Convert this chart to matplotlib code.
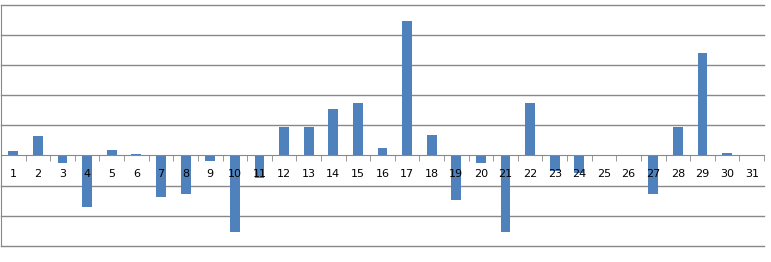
import matplotlib
matplotlib.use("Agg")
import matplotlib.pyplot as plt

days = list(range(1, 32))
values = [0.15, 0.65, -0.24, -1.70, 0.18, 0.05, -1.39, -1.27, -0.20, -2.52,
          -0.75, 0.95, 0.95, 1.55, 1.74, 0.26, 4.45, 0.69, -1.47, -0.24,
          -2.55, 1.74, -0.51, -0.58, 0.0, 0.0, -1.27, 0.95, 3.40, 0.08, 0.0]
tick_labels = [str(d) for d in days]
grid_levels = [-3, -2, -1, 1, 2, 3, 4, 5]

fig = plt.figure(figsize=(7.71, 2.62), dpi=100)
ax = fig.add_axes([1 / 771, (262 - 246) / 262, 763 / 771, (246 - 4.5) / 262])

for g in grid_levels:
    ax.axhline(g, color="#888888", lw=1.0, zorder=0.5, clip_on=False)

ax.bar(days, values, width=0.4, color="#4F81BD", zorder=1.2)

ax.set_xlim(0.5, 31.5)
ax.set_ylim(-3, 5)

for s in ["top", "right"]:
    ax.spines[s].set_visible(False)
ax.spines["left"].set_color("#888888")
ax.spines["bottom"].set_position(("data", 0))
ax.spines["bottom"].set_color("#888888")

ax.set_yticks([])
ax.set_xticks(days)
ax.set_xticklabels(tick_labels, fontsize=8, family="DejaVu Sans", color="#000000")
ax.tick_params(axis="x", which="major", length=0, pad=9.5)
ax.set_xticks([d + 0.5 for d in range(0, 32)], minor=True)
ax.tick_params(axis="x", which="minor", length=4, color="#888888", direction="out")

fig.savefig("out.png", dpi=100)
